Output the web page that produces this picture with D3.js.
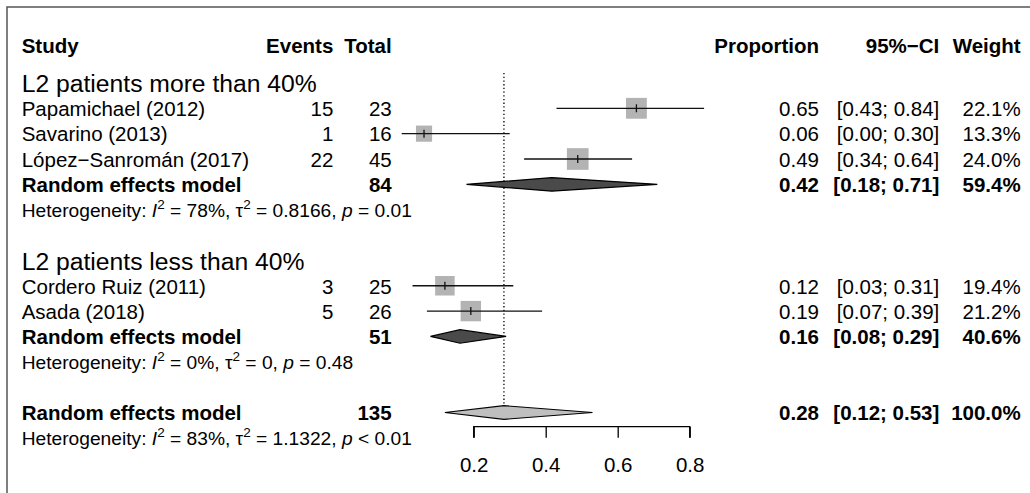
<!DOCTYPE html>
<html>
<head>
<meta charset="utf-8">
<script src="https://cdn.jsdelivr.net/npm/d3@7"></script>
<style>
  html, body { margin: 0; padding: 0; background: #fff; }
  svg { display: block; font-family: "Liberation Sans", Arial, Helvetica, sans-serif; }
</style>
</head>
<body>
<svg id="chart" width="1030" height="493"></svg>
<script>
// ---------- data ----------
const studies   = ["Papamichael (2012)", "Savarino (2013)", "López\u2212Sanromán (2017)", "Cordero Ruiz (2011)", "Asada (2018)"];
const studyGroup = [0, 0, 0, 1, 1];
const events    = [15, 1, 22, 3, 5];
const totals    = [23, 16, 45, 25, 26];
const props     = [0.652, 0.062, 0.489, 0.12, 0.192];
const ciLow     = [0.43, 0.00, 0.34, 0.03, 0.07];
const ciHigh    = [0.84, 0.30, 0.64, 0.31, 0.39];
const weights   = [22.1, 13.3, 24.0, 19.4, 21.2];

const groupLabels  = ["L2 patients more than 40%", "L2 patients less than 40%"];
const modelLabel   = "Random effects model";
const modelTotals  = [84, 51, 135];
const modelProps   = [0.417, 0.162, 0.284];
const modelLow     = [0.18, 0.08, 0.12];
const modelHigh    = [0.71, 0.29, 0.53];
const modelWeights = [59.4, 40.6, 100.0];
const hetI2   = [78, 0, 83];
const hetTau2 = [0.8166, 0, 1.1322];
const hetPop  = ["=", "=", "<"];
const hetP    = [0.01, 0.48, 0.01];

const headers = ["Study", "Events", "Total", "Proportion", "95%\u2212CI", "Weight"];
const axisTicks = [0.2, 0.4, 0.6, 0.8];

// ---------- layout ----------
const svg = d3.select("#chart");
const FS = 20.5, FS_HET = 19.2, FS_GRP = 24.7, FS_SUP = 13.5;

const x = d3.scaleLinear().domain([0, 0.8]).range([401.7, 689.7]);
const y = d3.scaleLinear().domain([0, 13]).range([108.3, 108.3 + 13 * 25.35]);
const boxSize = d3.scaleSqrt().domain([0, 24]).range([0, 21.7]);
const f2 = d3.format(".2f"), f1 = d3.format(".1f");

const col = { study: 21.7, events: 333.3, total: 391.7, prop: 819, ci: 939.3, weight: 1020.7 };

// row index for each element
const studyRow = [0, 1, 2, 7, 8];
const groupRow = [-1, 6];
const modelRow = [3, 9, 12];
const hetRow   = [4, 10, 13];

// frame
svg.append("path").attr("d", "M7,493 V7 H1030").attr("fill", "none")
  .attr("stroke", "#555").attr("stroke-width", 1.5);

function txt(g, s, xx, yy, anchor, weight, size) {
  return g.append("text").attr("x", xx).attr("y", yy)
    .attr("text-anchor", anchor).attr("font-weight", weight)
    .attr("font-size", size).attr("fill", "#000").text(s);
}

// header
const hy = y(-2.5) + 7.6;
const hx = [col.study, col.events, col.total, col.prop, col.ci, col.weight];
headers.forEach((h, i) => txt(svg, h, hx[i], hy, i === 0 ? "start" : "end", "bold", FS));

// group labels
groupLabels.forEach((g, i) => txt(svg, g, col.study, y(groupRow[i]) + 9.2, "start", "normal", FS_GRP));

// reference line (overall estimate)
svg.append("line")
  .attr("x1", x(modelProps[2])).attr("x2", x(modelProps[2]))
  .attr("y1", 73).attr("y2", y(modelRow[2]) - 6.5)
  .attr("stroke", "#000").attr("stroke-width", 1.3).attr("stroke-dasharray", "1.3,2.4");

// study rows
const sg = svg.append("g");
studies.forEach((s, i) => {
  const cy = y(studyRow[i]), by = cy + 7.8;
  txt(sg, s, col.study, by, "start", "normal", FS);
  txt(sg, events[i], col.events, by, "end", "normal", FS);
  txt(sg, totals[i], col.total, by, "end", "normal", FS);
  txt(sg, f2(props[i]), col.prop, by, "end", "normal", FS);
  txt(sg, "[" + f2(ciLow[i]) + "; " + f2(ciHigh[i]) + "]", col.ci, by, "end", "normal", FS);
  txt(sg, f1(weights[i]) + "%", col.weight, by, "end", "normal", FS);
  const b = boxSize(weights[i]);
  sg.append("rect").attr("x", x(props[i]) - b / 2).attr("y", cy - b / 2)
    .attr("width", b).attr("height", b).attr("fill", "#b3b3b3");
  sg.append("line").attr("x1", x(ciLow[i])).attr("x2", x(ciHigh[i]))
    .attr("y1", cy).attr("y2", cy).attr("stroke", "#111").attr("stroke-width", 1.3);
  sg.append("line").attr("x1", x(props[i])).attr("x2", x(props[i]))
    .attr("y1", cy - 4).attr("y2", cy + 4).attr("stroke", "#111").attr("stroke-width", 1.3);
});

// model rows
const mg = svg.append("g");
modelTotals.forEach((t, i) => {
  const cy = y(modelRow[i]), by = cy + 7.8;
  txt(mg, modelLabel, col.study, by, "start", "bold", FS);
  txt(mg, t, col.total, by, "end", "bold", FS);
  txt(mg, f2(modelProps[i]), col.prop, by, "end", "bold", FS);
  txt(mg, "[" + f2(modelLow[i]) + "; " + f2(modelHigh[i]) + "]", col.ci, by, "end", "bold", FS);
  txt(mg, f1(modelWeights[i]) + "%", col.weight, by, "end", "bold", FS);
  const h = 6.8;
  const pts = [[x(modelLow[i]), cy], [x(modelProps[i]), cy - h], [x(modelHigh[i]), cy], [x(modelProps[i]), cy + h]];
  mg.append("path").attr("d", d3.line()(pts) + "Z")
    .attr("fill", i === 2 ? "#bfbfbf" : "#4a4a4a").attr("stroke", "#000").attr("stroke-width", 1.2);

  // heterogeneity
  const ht = mg.append("text").attr("x", col.study).attr("y", y(hetRow[i]) + 7.4)
    .attr("font-size", FS_HET).attr("fill", "#000");
  ht.append("tspan").text("Heterogeneity: ");
  ht.append("tspan").attr("font-style", "italic").text("I");
  ht.append("tspan").attr("font-size", FS_SUP).attr("dy", -8.5).text("2");
  ht.append("tspan").attr("dy", 8.5).text(" = " + hetI2[i] + "%, \u03C4");
  ht.append("tspan").attr("font-size", FS_SUP).attr("dy", -8.5).text("2");
  ht.append("tspan").attr("dy", 8.5).text(" = " + hetTau2[i] + ", ");
  ht.append("tspan").attr("font-style", "italic").text("p");
  ht.append("tspan").text(" " + hetPop[i] + " " + f2(hetP[i]));
});

// axis
const axisScale = d3.scaleLinear().domain([0.2, 0.8]).range([x(0.2), x(0.8)]);
const ax = svg.append("g").attr("transform", "translate(0,426.7)")
  .call(d3.axisBottom(axisScale).tickValues(axisTicks).tickSize(11).tickSizeOuter(11)
        .tickPadding(20).tickFormat(d3.format(".1f")));
ax.selectAll("path, line").attr("stroke", "#000").attr("stroke-width", 1.3);
ax.selectAll("text").attr("font-size", FS).attr("font-family", "Liberation Sans, Arial, sans-serif").attr("fill", "#000");
ax.select(".domain").attr("d", `M${x(0.2)},11V0H${x(0.8)}V11`);
</script>
</body>
</html>
